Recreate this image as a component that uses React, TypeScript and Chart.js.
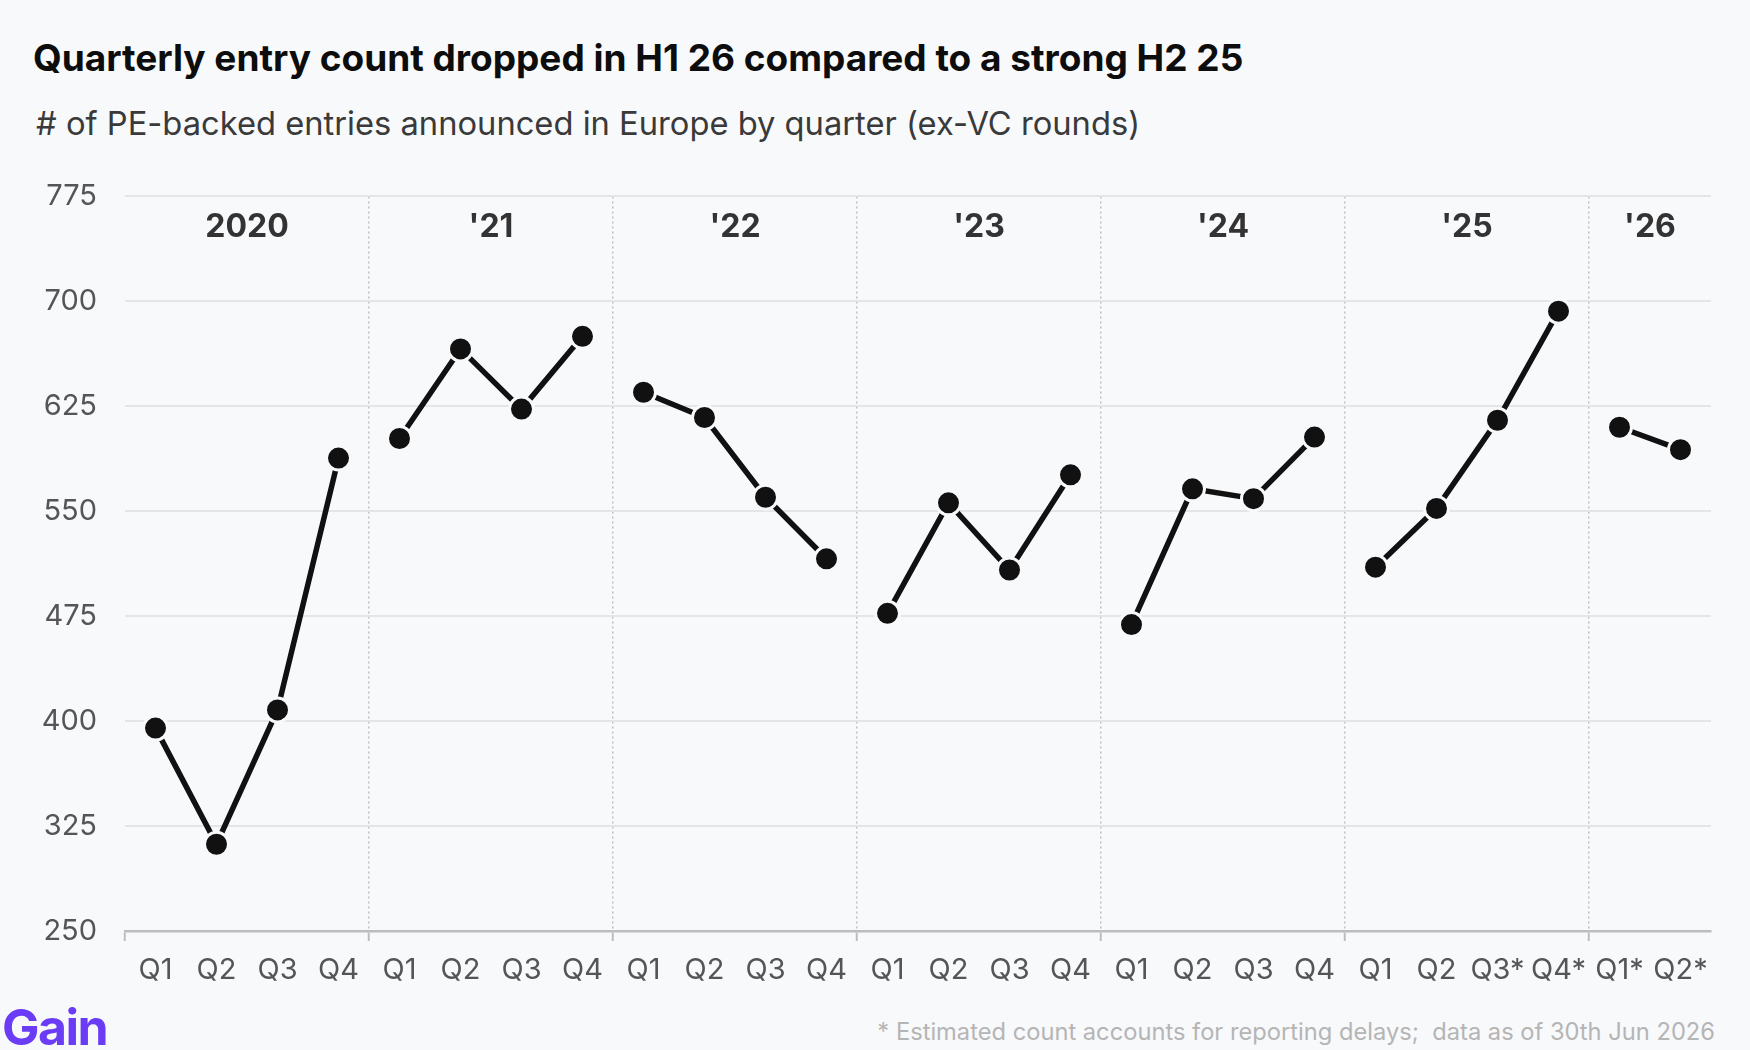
import { useEffect, useRef } from 'react';
import { Chart, registerables } from 'chart.js';

Chart.register(...registerables);

const quarterLabels = [
    'Q1', 'Q2', 'Q3', 'Q4',
    'Q1', 'Q2', 'Q3', 'Q4',
    'Q1', 'Q2', 'Q3', 'Q4',
    'Q1', 'Q2', 'Q3', 'Q4',
    'Q1', 'Q2', 'Q3', 'Q4',
    'Q1', 'Q2', 'Q3*', 'Q4*',
    'Q1*', 'Q2*',
];
const yearLabels = ['2020', "'21", "'22", "'23", "'24", "'25", "'26"];
const quartersPerYear = [4, 4, 4, 4, 4, 4, 2];
const entryCounts = [
    395, 312, 408, 588,
    602, 666, 623, 675,
    635, 617, 560, 516,
    477, 556, 508, 576,
    469, 566, 559, 603,
    510, 552, 615, 693,
    610, 594,
];
const yTicks = [250, 325, 400, 475, 550, 625, 700, 775];

const FONT = 'Inter, "Noto Sans", sans-serif';

// first index of every year group
const yearStarts: number[] = [];
quartersPerYear.reduce((acc, n) => {
    yearStarts.push(acc);
    return acc + n;
}, 0);

const yearHeaders = {
    id: 'yearHeaders',
    afterDatasetsDraw(chart: Chart) {
        const { ctx } = chart;
        const x = chart.scales.x;
        ctx.save();
        ctx.font = `700 32px ${FONT}`;
        ctx.fillStyle = '#333333';
        ctx.textAlign = 'center';
        ctx.textBaseline = 'middle';
        yearLabels.forEach((label, i) => {
            const first = yearStarts[i];
            const last = first + quartersPerYear[i] - 1;
            const cx = (x.getPixelForValue(first) + x.getPixelForValue(last)) / 2;
            ctx.fillText(label, cx, chart.chartArea.top + 31);
        });
        ctx.restore();
    },
};

function EntryChart() {
    const canvasRef = useRef<HTMLCanvasElement>(null);
    const chartRef = useRef<Chart | null>(null);

    useEffect(() => {
        if (!canvasRef.current) return;
        if (chartRef.current) chartRef.current.destroy();

        chartRef.current = new Chart(canvasRef.current, {
            type: 'line',
            data: {
                labels: quarterLabels,
                datasets: [{
                    data: entryCounts,
                    borderColor: '#111111',
                    borderWidth: 5.5,
                    pointRadius: 12,
                    pointBackgroundColor: '#111111',
                    pointBorderColor: '#f8f9fb',
                    pointBorderWidth: 3,
                    tension: 0,
                    segment: {
                        // no line between Q4 of one year and Q1 of the next
                        borderColor: (c: any) => yearStarts.includes(c.p1DataIndex) ? 'rgba(0,0,0,0)' : '#111111',
                    },
                }],
            },
            options: {
                responsive: true,
                maintainAspectRatio: false,
                animation: false,
                // top gap comes from the y tick padding (label half height + 28)
                layout: { padding: { top: 0, right: 39, left: 0, bottom: 0 } },
                plugins: {
                    legend: { display: false },
                    tooltip: { enabled: false },
                },
                scales: {
                    x: {
                        offset: true,
                        afterFit: (s: any) => { s.height = 69; },
                        border: { display: true, color: '#bdbdbd', width: 2.5, dash: [2, 3] },
                        grid: {
                            offset: true,
                            lineWidth: 1.5,
                            color: (c: any) => (c.index !== undefined && c.index > 0 && yearStarts.includes(c.index)) ? '#c2c2c2' : 'rgba(0,0,0,0)',
                            tickColor: (c: any) => (c.index !== undefined && yearStarts.includes(c.index)) ? '#bdbdbd' : 'rgba(0,0,0,0)',
                            tickLength: 10,
                            tickWidth: 2,
                            tickBorderDash: [],
                        },
                        ticks: {
                            color: '#555555',
                            font: { family: FONT, size: 29 },
                            padding: 12,
                            maxRotation: 0,
                            autoSkip: false,
                        },
                    },
                    y: {
                        min: 250,
                        max: 775,
                        afterFit: (s: any) => { s.width = 125; },
                        afterBuildTicks: (s: any) => { s.ticks = yTicks.map(v => ({ value: v })); },
                        border: { display: false },
                        grid: {
                            color: '#e4e5e7',
                            lineWidth: 2,
                            drawTicks: false,
                        },
                        ticks: {
                            color: '#555555',
                            font: { family: FONT, size: 29 },
                            padding: 28,
                        },
                    },
                },
            },
            plugins: [yearHeaders],
        });

        return () => {
            if (chartRef.current) {
                chartRef.current.destroy();
                chartRef.current = null;
            }
        };
    }, []);

    return (
        <div style={{ position: 'absolute', left: 0, top: 151, width: 1750, height: 849 }}>
            <canvas ref={canvasRef}></canvas>
        </div>
    );
}

export default function App() {
    return (
        <div style={{
            position: 'fixed', left: 0, top: 0, width: 1750, height: 1050,
            background: '#f8f9fb', fontFamily: FONT, overflow: 'hidden',
        }}>
            <div style={{
                position: 'absolute', left: 33, top: 36, fontSize: 37, lineHeight: '44px',
                fontWeight: 700, color: '#0d0d0d', whiteSpace: 'nowrap',
            }}>
                Quarterly entry count dropped in H1 26 compared to a strong H2 25
            </div>
            <div style={{
                position: 'absolute', left: 36, top: 103, fontSize: 32.7, lineHeight: '40px',
                color: '#3a3a3a', whiteSpace: 'nowrap',
            }}>
                # of PE-backed entries announced in Europe by quarter (ex-VC rounds)
            </div>
            <EntryChart />
            <div style={{
                position: 'absolute', left: 2, top: 997, fontSize: 50, lineHeight: '60px',
                fontWeight: 700, color: '#6b3cf6', letterSpacing: '-1.5px',
            }}>
                Gain
            </div>
            <div style={{
                position: 'absolute', right: 35, top: 1018, fontSize: 23.7, lineHeight: '28px',
                color: '#b5b5b5', whiteSpace: 'nowrap',
            }}>
                * Estimated count accounts for reporting delays;&nbsp; data as of 30th Jun 2026
            </div>
        </div>
    );
}
